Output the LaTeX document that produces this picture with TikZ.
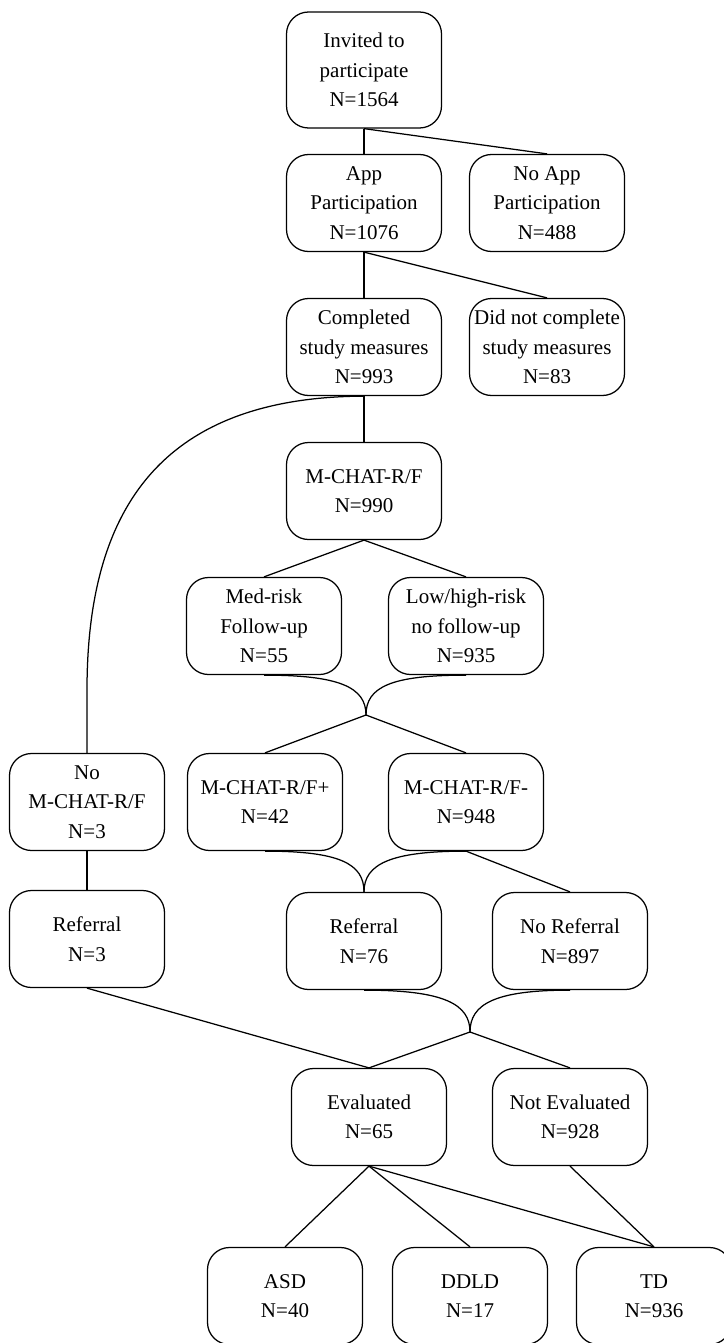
\documentclass[tikz,border=0pt]{standalone}
\usepackage{fontspec}
\setmainfont{Liberation Serif}
\usepackage{tikz}

\begin{document}
\begin{tikzpicture}[x=1pt,y=-1pt,
    box/.style={draw,line width=1.25pt,rounded corners=22pt,minimum width=155pt,
        minimum height=97pt,inner sep=0pt,align=center,
        font=\fontsize{21}{29.5}\selectfont},
    link/.style={line width=1.25pt}]
\useasboundingbox (0,0) rectangle (723,1343);

% Recruitment
\node[box,minimum height=116pt] (invited) at (364,70) {Invited to\\participate\\N=1564};
\node[box] (app) at (364,203) {App\\Participation\\N=1076};
\node[box] (noapp) at (547,203) {No App\\Participation\\N=488};
\node[box] (completed) at (364,347) {Completed\\study measures\\N=993};
\node[box] (notcompleted) at (547,347) {Did not complete\\study measures\\N=83};

% Screening
\node[box] (mchat) at (364,491) {M-CHAT-R/F\\N=990};
\node[box] (medrisk) at (264,626) {Med-risk\\Follow-up\\N=55};
\node[box] (lowhigh) at (466,626) {Low/high-risk\\no follow-up\\N=935};
\node[box] (nomchat) at (87,802) {No\\M-CHAT-R/F\\N=3};
\node[box] (mpos) at (265,802) {M-CHAT-R/F+\\N=42};
\node[box] (mneg) at (466,802) {M-CHAT-R/F-\\N=948};

% Referral and evaluation
\node[box] (referral3) at (87,939) {Referral\\N=3};
\node[box] (referral) at (364,941) {Referral\\N=76};
\node[box] (noreferral) at (570,941) {No Referral\\N=897};
\node[box] (evaluated) at (369,1117) {Evaluated\\N=65};
\node[box] (notevaluated) at (570,1117) {Not Evaluated\\N=928};

% Outcomes
\node[box] (asd) at (285,1296) {ASD\\N=40};
\node[box] (ddld) at (470,1296) {DDLD\\N=17};
\node[box] (td) at (654,1296) {TD\\N=936};

% Junction points
\coordinate (merge1) at (366,715);
\coordinate (merge2) at (470,1032);
\coordinate (leftbend) at (87,690);

% Straight connectors
\draw[link] (invited.south) -- (app.north);
\draw[link] (invited.south) -- (noapp.north);
\draw[link] (app.south) -- (completed.north);
\draw[link] (app.south) -- (notcompleted.north);
\draw[link] (completed.south) -- (mchat.north);
\draw[link] (mchat.south) -- (medrisk.north);
\draw[link] (mchat.south) -- (lowhigh.north);
\draw[link] (merge1) -- (mpos.north);
\draw[link] (merge1) -- (mneg.north);
\draw[link] (nomchat.south) -- (referral3.north);
\draw[link] (mneg.south) -- (noreferral.north);
\draw[link] (referral3.south) -- (evaluated.north);
\draw[link] (merge2) -- (evaluated.north);
\draw[link] (merge2) -- (notevaluated.north);
\foreach \outcome in {asd,ddld,td}
    \draw[link] (evaluated.south) -- (\outcome.north);
\draw[link] (notevaluated.south) -- (td.north);

% Curved connectors
\draw[link] (completed.south) .. controls (160,397) and (87,510) .. (leftbend) -- (nomchat.north);
\draw[link] (medrisk.south) .. controls +(75,0) and +(0,-28) .. (merge1);
\draw[link] (lowhigh.south) .. controls +(-75,0) and +(0,-28) .. (merge1);
\draw[link] (mpos.south) .. controls +(75,0) and +(0,-28) .. (referral.north);
\draw[link] (mneg.south) .. controls +(-75,0) and +(0,-28) .. (referral.north);
\draw[link] (referral.south) .. controls +(80,0) and +(0,-28) .. (merge2);
\draw[link] (noreferral.south) .. controls +(-75,0) and +(0,-28) .. (merge2);
\end{tikzpicture}
\end{document}
